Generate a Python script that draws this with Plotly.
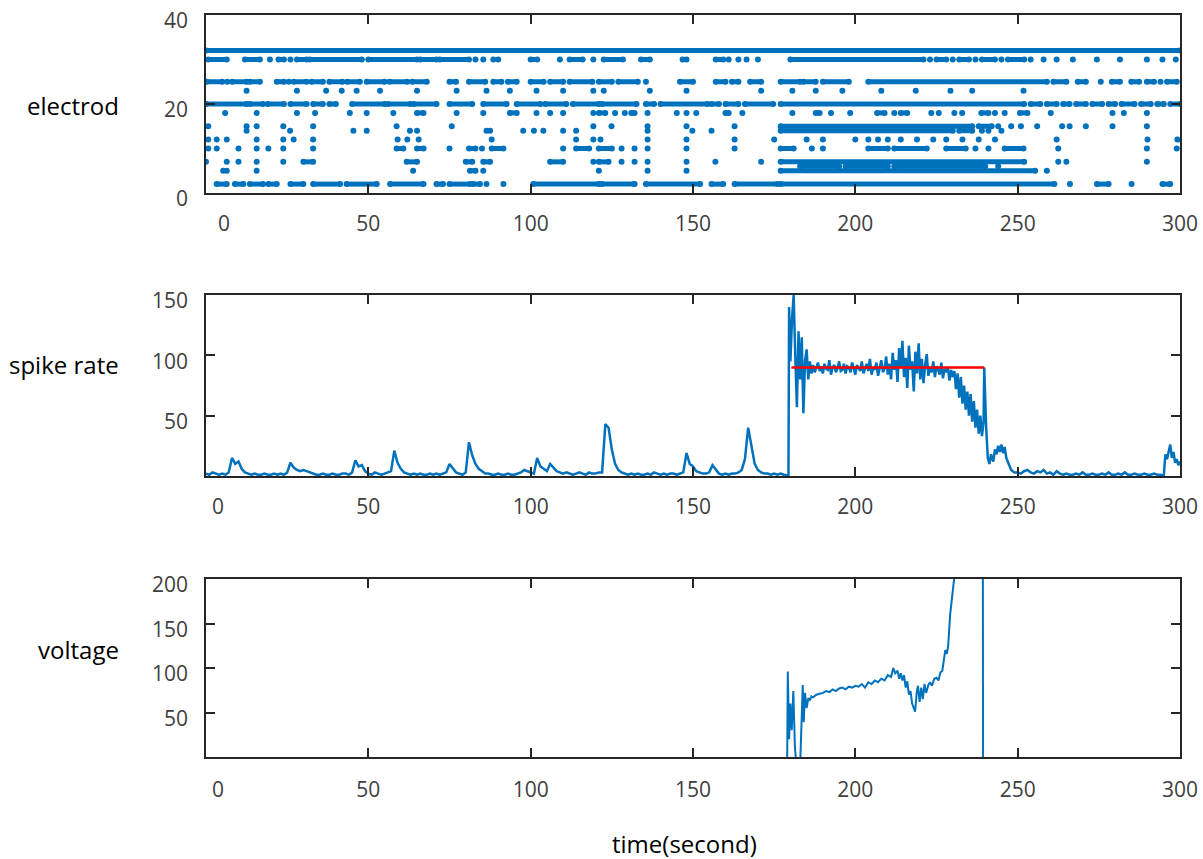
import plotly.graph_objects as go

BLUE = "#0072BD"
RED = "#FF0000"
AX = "#262626"

# ---------------- tick labels ----------------
x_ticks = [0, 50, 100, 150, 200, 250, 300]
x_text_top = ["\u2007\u2007\u20070", "50", "100", "150", "200", "250", "300"]
x_text_mid = ["\u2007\u20070", "50", "100", "150", "200", "250", "300"]
y_ticks_top = [0, 20, 40]
y_ticks_mid = [50, 100, 150]
y_ticks_bot = [50, 100, 150, 200]

# ---------------- raster (electrode, spike times; tuples = dense runs) ----------------
electrodes = [2, 5, 6, 7, 10, 12, 14, 15, 18, 20, 23, 25, 30, 32]
e32 = [(0, 300)]
e30 = [(0.7, 6.4), (12, 16.6), 19.7, (22.3, 24), 26, (28, 31), (32, 48), (50, 65), (66, 71), (72, 81), 83, 85.4,
       88.5, 90, (100, 102), 109, (112, 116), 119.3, (122.5, 128.4), (134, 136.7), (146.8, 148), (157, 159.3), 161,
       164, 166.5, 170, (180, 221), 223, (225, 228), 230, (232, 235), 237, (239, 243), 245, (247, 252), 254, 258,
       262, 267, 274.4, 281.5, 289.8, 294.6, 298.7]
e25 = [(0.2, 5), 6.5, (8, 12.5), (13.5, 16.6), (21.8, 24), 25.5, (27, 31), (32.5, 36), (38, 42), (43.5, 47.4),
       (49.5, 55), (56.5, 62), (63.5, 68), (75, 77), (81, 86), (88.5, 91), (93, 95.7), (100, 104), (106, 110),
       (112, 119), (121, 125), (127, 133), 135.5, (146, 150), (157, 160), (162, 164), (167.6, 171), (177, 183),
       (184, 187.8), (190, 198), (204, 259), (261, 265), (268.5, 271), 275.6, (279, 281.5), (285, 287.4),
       (289.8, 292), 294, (296, 299)]
e23 = [12.5, 28, 37, 41.8, 46.4, 53.6, 65, 77.2, 86.4, 93.6, 101.8, 110, 119.3, 122.5, 136.7, 148, 171, 180.6,
       187.8, 196, 208, 218.6, 229.3, 236, 251.8]
e20 = [(0, 12.5), (13.5, 17.6), (19, 24), (26, 31), (33, 36), (38, 40), (45, 55), (56, 63), (64, 71), (75, 82),
       (85.4, 92.6), (95.7, 103), (104.5, 111), (113, 121), (122, 132.6), (135.5, 138), (140, 154.5), (155.7, 158),
       (160, 164), (166, 174.7), (177, 252), (254, 257), (259, 262), (264, 266), (268, 271), (273, 276), (278, 280),
       (282, 286), (288, 291), (293, 295), (297, 300)]
e18 = [5.9, 15.6, 28, 33.6, 44.3, 49.5, 57.7, (65, 67), 77.2, 85.4, (93.6, 95.7), 101.8, 106, 110, 119.3,
       (121, 123), 126, 129, (131, 132), 136, 145, 148, 151, (160, 161), 165.2, 180.6, (187.8, 189), 192.5, 198.4,
       (206.7, 209), 212, (214, 216), 223.4, 225.7, 230.5, 232.9, (238.8, 241), 243, 246, (250.7, 253), 260.2,
       279.2, 282.7, 289.8]
e15 = [0.7, 12.5, 15.6, 23.8, 33, 58.7, 75.7, 119.3, 124.9, 136, 148, 162.8, (177, 236), (238, 242), 244, 248,
       251, 256, 263.7, 266, 271, 279.2, 289.8]
e14 = [12.5, 25.9, 45.4, 49.5, 62.8, 65, 86.4, 87.5, 97.7, 101, 103.9, 110, 114, 136, 149.8, 155.7, (177, 230),
       (232, 236), 239, 241, 245]
e12 = [0.7, 3.3, 6.4, 15.6, 23.8, 27, 33, 59, 62, 65.5, 88, 114, 119.3, 121.5, 136, 148, 162.8, 175, 185, 190,
       200, 204, 207, 210, 214, 219, 224, 228, 233, 238, 243, 262, 290, 299.2]
e10 = [0.7, 3.3, 10, 15.6, 19.2, 23.8, 33, (58.7, 60.8), (65, 67), 75, (81, 83), 85, (88, 91.6), 110, (114, 118),
       (121, 125), 128, 132, 136, 148, 162.8, (177, 181), 186.6, 190, (204, 210), (212, 222), (228, 234), 237, 241,
       (246, 251.8), 262.5, 289.8, 299]
e7 = [0, 6.4, 10, 15.6, 23.8, (30, 33), (61.8, 65), (80, 82), (85.4, 87.5), (106, 110), 119.3, (121, 124), 128,
      132, 136, 148, 156.9, 171, (177, 252), 262.5, 265, 289.8]
e6 = [(183, 195), (197, 210), (212, 240), 244]
e5 = [5.3, 6.4, 15.6, 63.8, (81.3, 83), 85.4, 121, 136, 148, (177, 255.4), 259]
e2 = [(3.3, 6.4), (8.9, 11.5), (13.5, 17.6), (19.2, 21.8), (26, 30), (33, 41.3), (43.3, 52.6), (56.7, 67),
      (71, 73), (75, 81.3), (82.3, 84.4), 86.4, 91.6, (100.8, 121), (122, 132), (135.5, 152.2), (155.7, 159.3),
      (162.8, 176), (177, 261.3), 266.1, (274.4, 278), 285.1, (294.6, 297)]
raster_rows = [e2, e5, e6, e7, e10, e12, e14, e15, e18, e20, e23, e25, e30, e32]

# ---------------- spike rate ----------------
rate_t_quiet = list(range(0, 180))
rate_v_quiet = [2, 1, 3, 2, 1, 2, 1, 3, 15, 10,
                12, 6, 3, 2, 1, 2, 1, 1, 2, 1,
                1, 2, 1, 2, 1, 3, 11, 7, 5, 4,
                5, 4, 3, 2, 1, 1, 2, 1, 1, 2,
                1, 1, 2, 2, 1, 3, 13, 8, 9, 4,
                2, 1, 3, 2, 1, 2, 3, 4, 21, 11,
                6, 3, 2, 1, 2, 1, 2, 1, 1, 2,
                1, 2, 1, 2, 3, 10, 6, 3, 2, 1,
                3, 28, 17, 10, 6, 4, 2, 2, 1, 1,
                2, 1, 1, 2, 1, 1, 2, 3, 5, 4,
                3, 2, 15, 8, 6, 4, 10, 7, 4, 3,
                2, 3, 2, 1, 2, 3, 2, 1, 3, 2,
                2, 3, 3, 43, 40, 22, 10, 5, 3, 2,
                1, 2, 1, 2, 1, 1, 2, 1, 3, 2,
                1, 2, 1, 2, 2, 1, 2, 3, 19, 10,
                8, 4, 3, 2, 2, 3, 9, 5, 2, 1,
                2, 1, 2, 2, 3, 5, 14, 40, 25, 10,
                5, 3, 2, 2, 1, 2, 1, 2, 1, 0]
rate_t_active = [179.4, 179.6, 180, 180.5, 181, 181.5, 182, 182.5,
                 183, 183.5, 184, 184.5, 185, 185.5, 186, 186.5,
                 187, 187.5, 188, 188.5, 189, 189.5, 190, 190.5,
                 191, 191.5, 192, 192.5, 193, 193.5, 194, 194.5,
                 195, 195.5, 196, 196.5, 197, 197.5, 198, 198.5,
                 199, 199.5, 200, 200.5, 201, 201.5, 202, 202.5,
                 203, 203.5, 204, 204.5, 205, 205.5, 206, 206.5,
                 207, 207.5, 208, 208.5, 209, 209.5, 210, 210.5,
                 211, 211.5, 212, 212.5, 213, 213.5, 214, 214.5,
                 215, 215.5, 216, 216.5, 217, 217.5, 218, 218.5,
                 219, 219.5, 220, 220.5, 221, 221.5, 222, 222.5,
                 223, 223.5, 224, 224.5, 225, 225.5, 226, 226.5,
                 227, 227.5, 228, 228.5, 229, 229.5, 230, 230.5,
                 231, 231.5, 232, 232.5, 233, 233.5, 234, 234.5,
                 235, 235.5, 236, 236.5, 237, 237.5, 238, 238.5,
                 239, 239.5, 239.7, 240.3, 240.8, 241.3, 241.8, 242.5,
                 243, 243.5, 244, 244.5, 245, 245.5, 246, 246.5,
                 247, 247.5, 248, 248.5, 249]
rate_v_active = [0, 140, 95, 130, 150, 100, 57, 120,
                 80, 115, 52, 95, 105, 80, 95, 85,
                 92, 86, 90, 94, 87, 91, 85, 93,
                 89, 88, 96, 84, 90, 92, 86, 89,
                 95, 87, 88, 93, 85, 91, 90, 86,
                 94, 89, 84, 92, 90, 87, 95, 85,
                 89, 93, 87, 97, 84, 90, 88, 94,
                 83, 91, 96, 86, 89, 99, 84, 93,
                 80, 102, 88, 96, 78, 106, 90, 112,
                 82, 98, 73, 108, 88, 95, 70, 103,
                 85, 110, 80, 97, 77, 92, 101, 83,
                 90, 86, 95, 82, 91, 88, 84, 94,
                 81, 89, 86, 90, 79, 88, 82, 87,
                 72, 85, 65, 82, 60, 75, 55, 70,
                 50, 68, 45, 62, 40, 55, 35, 50,
                 33, 45, 90, 40, 15, 10, 18, 12,
                 22, 18, 25, 20, 26, 19, 24, 15,
                 12, 8, 5, 4, 3]
rate_t_after = list(range(250, 296)) + [295.5, 296, 296.5, 297, 297.5, 298, 298.5, 299, 299.5, 300]
rate_v_after = [3, 2, 4, 5, 3, 2, 4, 3, 5, 2,
                3, 1, 4, 2, 1, 2, 1, 1, 2, 1,
                3, 1, 1, 2, 1, 1, 2, 1, 3, 1,
                1, 2, 1, 3, 1, 1, 2, 1, 1, 2,
                1, 1, 2, 1, 1, 0,
                18, 14, 20, 26, 15, 20, 11, 14, 9, 12]
mean_t = [180.3, 239.7]
mean_v = [90, 90]

# ---------------- voltage ----------------
volt_t = [179.0, 179.2, 179.6, 180.0, 180.4, 180.9, 181.4, 181.9, 183.0, 183.5, 183.8, 184.1, 184.5, 185, 185.5,
          186, 186.5, 187, 188, 189, 190, 191, 192, 193, 194, 195, 196, 197, 198, 199, 200, 201, 202, 203, 204,
          205, 206, 207, 208, 209, 210, 211, 211.7, 212.3, 213, 213.5, 214, 214.5, 215, 215.5, 216, 216.5, 217,
          217.5, 218.4, 218.9, 219.3, 219.8, 220.3, 220.8, 221.3, 221.8, 222.5, 223, 223.6, 224.3, 225, 225.6,
          226.2, 226.8, 227.3, 227.7, 228.2, 228.6, 229.2, 229.8, 230.4, 231.2, 232, 235, 239.2, 239.35]
volt_v = [-10, 96, 20, 60, 30, 74, 10, -10, -10, 40, 81, 39, 72, 55, 66,
          64, 68, 67, 70, 71, 72, 74, 73, 76, 74, 77, 78, 76, 79, 78, 80, 79, 82, 78, 84,
          82, 86, 84, 88, 86, 92, 90, 100, 94, 97, 88, 94, 86, 92, 78, 85, 70, 74,
          60, 51, 72, 80, 62, 78, 65, 82, 72, 81, 84, 80, 88, 89, 86,
          95, 97, 110, 120, 116, 125, 160, 185, 205, 225, 250, 350, 500, -50]

# ---------------- build figure ----------------
dot_x, dot_y, run_x, run_y = [], [], [], []
for e, row in zip(electrodes, raster_rows):
    for item in row:
        if isinstance(item, tuple):
            a, b = item
            run_x += [a, b, None]
            run_y += [e, e, None]
            dot_x += [a, b]
            dot_y += [e, e]
        else:
            dot_x.append(item)
            dot_y.append(e)

fig = go.Figure()
fig.add_trace(go.Scatter(x=run_x, y=run_y, mode="lines", line=dict(color=BLUE, width=5),
                         xaxis="x", yaxis="y", hoverinfo="skip"))
fig.add_trace(go.Scatter(x=dot_x, y=dot_y, mode="markers", marker=dict(color=BLUE, size=6),
                         xaxis="x", yaxis="y"))
fig.add_trace(go.Scatter(x=rate_t_quiet + rate_t_active + rate_t_after,
                         y=rate_v_quiet + rate_v_active + rate_v_after,
                         mode="lines", line=dict(color=BLUE, width=2.5), xaxis="x2", yaxis="y2"))
fig.add_trace(go.Scatter(x=mean_t, y=mean_v, mode="lines", line=dict(color=RED, width=2.5),
                         xaxis="x2", yaxis="y2"))
fig.add_trace(go.Scatter(x=volt_t, y=volt_v, mode="lines", line=dict(color=BLUE, width=2),
                         xaxis="x3", yaxis="y3"))

W, H = 1203, 859
xdom = [206 / W, 1180 / W]


def ydom(top, bottom):
    return [1 - bottom / H, 1 - top / H]


common = dict(showline=True, linecolor=AX, linewidth=1.6, mirror="ticks", ticks="inside", ticklen=9,
              tickwidth=1.6, tickcolor=AX, showgrid=False, zeroline=False, automargin=False,
              ticklabeloverflow="allow",
              tickfont=dict(family="Open Sans", size=21, color="#404040"))

fig.update_layout(
    width=W, height=H, margin=dict(l=0, r=0, t=0, b=0, autoexpand=False),
    paper_bgcolor="white", plot_bgcolor="white", showlegend=False,
    xaxis=dict(domain=xdom, anchor="y", range=[0, 300], tickvals=x_ticks, ticktext=x_text_top,
               ticklabelstandoff=11, **common),
    yaxis=dict(domain=ydom(15, 193), anchor="x", range=[0, 40], tickvals=y_ticks_top,
               ticklabelstandoff=12, ticklabelshift=6, **common),
    xaxis2=dict(domain=xdom, anchor="y2", range=[0, 300], tickvals=x_ticks, ticktext=x_text_mid,
                ticklabelstandoff=11, **common),
    yaxis2=dict(domain=ydom(295, 476), anchor="x2", range=[0, 150], tickvals=y_ticks_mid,
                ticklabelstandoff=12, ticklabelshift=6, **common),
    xaxis3=dict(domain=xdom, anchor="y3", range=[0, 300], tickvals=x_ticks, ticktext=x_text_mid,
                ticklabelstandoff=13, **common),
    yaxis3=dict(domain=ydom(579, 757), anchor="x3", range=[0, 200], tickvals=y_ticks_bot,
                ticklabelstandoff=12, ticklabelshift=6, **common),
)

lab_font = dict(family="Open Sans", size=24, color="black")
for text, yc in [("electrod", 106), ("spike rate", 364), ("voltage", 649)]:
    fig.add_annotation(text=text, x=121 / W, y=1 - yc / H, xref="paper", yref="paper",
                       xanchor="right", yanchor="middle", showarrow=False, font=lab_font)
fig.add_annotation(text="time(second)", x=684 / W, y=1 - 843 / H, xref="paper", yref="paper",
                   xanchor="center", yanchor="middle", showarrow=False, font=lab_font)

fig.write_html("out.html")
